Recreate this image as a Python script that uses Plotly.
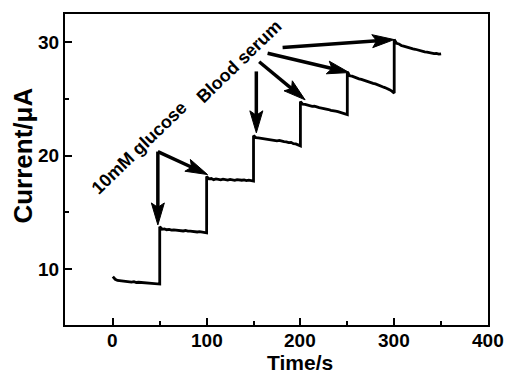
import math
import plotly.graph_objects as go

# ---- data ----
step_starts = [0, 50, 100, 150, 200, 250, 300]   # s, start of each plateau
sample_dt = 2.5                                   # s between readings
seg0 = [9.35, 9.12, 9.02, 9.00, 8.94, 8.97, 8.90, 8.92, 8.88, 8.91, 8.84, 8.86, 8.85, 8.80, 8.83, 8.79, 8.80, 8.76, 8.78, 8.74, 8.70]
seg1 = [13.75, 13.52, 13.55, 13.48, 13.50, 13.44, 13.47, 13.45, 13.40, 13.43, 13.37, 13.41, 13.35, 13.36, 13.33, 13.35, 13.28, 13.31, 13.27, 13.24, 13.20]
seg2 = [18.15, 17.95, 17.98, 17.88, 17.94, 17.90, 17.86, 17.93, 17.89, 17.84, 17.90, 17.87, 17.82, 17.88, 17.85, 17.83, 17.86, 17.80, 17.84, 17.79, 17.76]
seg3 = [21.75, 21.58, 21.55, 21.52, 21.47, 21.50, 21.42, 21.40, 21.38, 21.35, 21.30, 21.33, 21.25, 21.22, 21.20, 21.14, 21.16, 21.05, 21.03, 20.95, 20.85]
seg4 = [24.75, 24.52, 24.50, 24.42, 24.40, 24.33, 24.35, 24.25, 24.22, 24.18, 24.15, 24.08, 24.05, 23.98, 23.97, 23.90, 23.86, 23.80, 23.74, 23.68, 23.60]
seg5 = [27.35, 27.02, 26.98, 26.88, 26.84, 26.75, 26.70, 26.62, 26.55, 26.50, 26.42, 26.35, 26.30, 26.20, 26.15, 26.05, 25.98, 25.90, 25.80, 25.66, 25.50]
seg6 = [30.20, 29.88, 29.82, 29.68, 29.62, 29.55, 29.50, 29.45, 29.38, 29.35, 29.28, 29.25, 29.20, 29.12, 29.10, 29.05, 29.02, 28.96, 28.98, 28.92, 28.95]
segments = [seg0, seg1, seg2, seg3, seg4, seg5, seg6]

x_ticks = [0, 100, 200, 300, 400]
y_ticks = [10, 20, 30]

# arrows: (tail_x, tail_y, head_x, head_y)
glucose_arrows = [(48, 20.35, 48, 13.9), (48, 20.35, 101, 18.33)]
serum_arrows = [(153, 27.4, 153, 22.0), (156, 28.25, 205, 24.9),
                (165, 29.0, 252, 27.3), (181, 29.5, 300, 30.2)]

# ---- layout geometry ----
W_FIG, H_FIG = 506, 374
M_L, M_R, M_T, M_B = 65, 18, 14, 49
X_RANGE = [-51, 400]
Y_RANGE = [5.1, 32.45]
PLOT_H = H_FIG - M_T - M_B
sx = (W_FIG - M_L - M_R) / (X_RANGE[1] - X_RANGE[0])
sy = PLOT_H / (Y_RANGE[1] - Y_RANGE[0])

# ---- build trace ----
t_all, i_all = [], []
for s, seg in zip(step_starts, segments):
    for k, v in enumerate(seg):
        t_all.append(s + k * sample_dt)
        i_all.append(v)

FONT = "Liberation Sans"
fig = go.Figure()
fig.add_trace(go.Scatter(x=t_all, y=i_all, mode="lines",
                         line=dict(color="black", width=2.8), showlegend=False))

# arrows: shaft as line shape, head as pixel-sized path shape
HEAD_L, HEAD_W, SHAFT_W = 22, 13, 3.5
shapes = []
for tx, ty, hx, hy in glucose_arrows + serum_arrows:
    dxp, dyp = (hx - tx) * sx, (hy - ty) * sy
    d = math.hypot(dxp, dyp)
    ux, uy = dxp / d, dyp / d
    nx, ny = -uy, ux
    ex = hx - 0.6 * HEAD_L * ux / sx
    ey = hy - 0.6 * HEAD_L * uy / sy
    shapes.append(dict(type="line", xref="x", yref="y", x0=tx, y0=ty, x1=ex, y1=ey,
                       line=dict(color="black", width=SHAFT_W)))
    pts = [(0, 0),
           (-HEAD_L * ux + HEAD_W / 2 * nx, -HEAD_L * uy + HEAD_W / 2 * ny),
           (-0.8 * HEAD_L * ux, -0.8 * HEAD_L * uy),
           (-HEAD_L * ux - HEAD_W / 2 * nx, -HEAD_L * uy - HEAD_W / 2 * ny)]
    path = "M" + " L".join(f"{px:.2f},{py:.2f}" for px, py in pts) + " Z"
    shapes.append(dict(type="path", xref="x", yref="y", xsizemode="pixel", ysizemode="pixel",
                       xanchor=hx, yanchor=hy, path=path,
                       fillcolor="black", line=dict(color="black", width=1)))

anns = []
anns.append(dict(x=27.7, y=20.7, xref="x", yref="y", text="<b>10mM glucose</b>",
                 showarrow=False, textangle=-44, font=dict(family=FONT, size=18, color="black")))
anns.append(dict(x=134, y=28.25, xref="x", yref="y", text="<b>Blood serum</b>",
                 showarrow=False, textangle=-44, font=dict(family=FONT, size=18, color="black")))
# x tick labels (placed close under the axis line, as in the reference)
for v in x_ticks:
    anns.append(dict(x=v, y=-(340 - (H_FIG - M_B)) / PLOT_H, xref="x", yref="paper",
                     text=f"<b>{v}</b>", showarrow=False, yanchor="middle", borderpad=0,
                     font=dict(family=FONT, size=19, color="black")))
anns.append(dict(x=200, y=-(362.5 - (H_FIG - M_B)) / PLOT_H, xref="x", yref="paper",
                 text="<b>Time/s</b>", showarrow=False, yanchor="middle", borderpad=0,
                 font=dict(family=FONT, size=21, color="black")))
anns.append(dict(x=-(M_L - 23) / (W_FIG - M_L - M_R), y=20, xref="paper", yref="y",
                 text="<b>Current/\u03bcA</b>", showarrow=False, textangle=-90, xanchor="center",
                 font=dict(family=FONT, size=26, color="black")))

axis_common = dict(showline=True, linecolor="black", linewidth=2, mirror=True,
                   ticks="inside", ticklen=7, tickwidth=2, tickcolor="black",
                   showgrid=False, zeroline=False,
                   tickfont=dict(family=FONT, size=19, color="black"))
fig.update_layout(
    width=W_FIG, height=H_FIG,
    margin=dict(l=M_L, r=M_R, t=M_T, b=M_B),
    paper_bgcolor="white", plot_bgcolor="white",
    xaxis=dict(range=X_RANGE, tickvals=x_ticks, showticklabels=False,
               minor=dict(ticks="inside", ticklen=4, tickwidth=2, tickcolor="black", dtick=50, tick0=0),
               **axis_common),
    yaxis=dict(range=Y_RANGE, tickvals=y_ticks, ticktext=[f"<b>{v}</b>" for v in y_ticks],
               minor=dict(ticks="inside", ticklen=4, tickwidth=2, tickcolor="black", dtick=5, tick0=0),
               **axis_common),
    annotations=anns,
    shapes=shapes,
)
fig.write_html("out.html")
